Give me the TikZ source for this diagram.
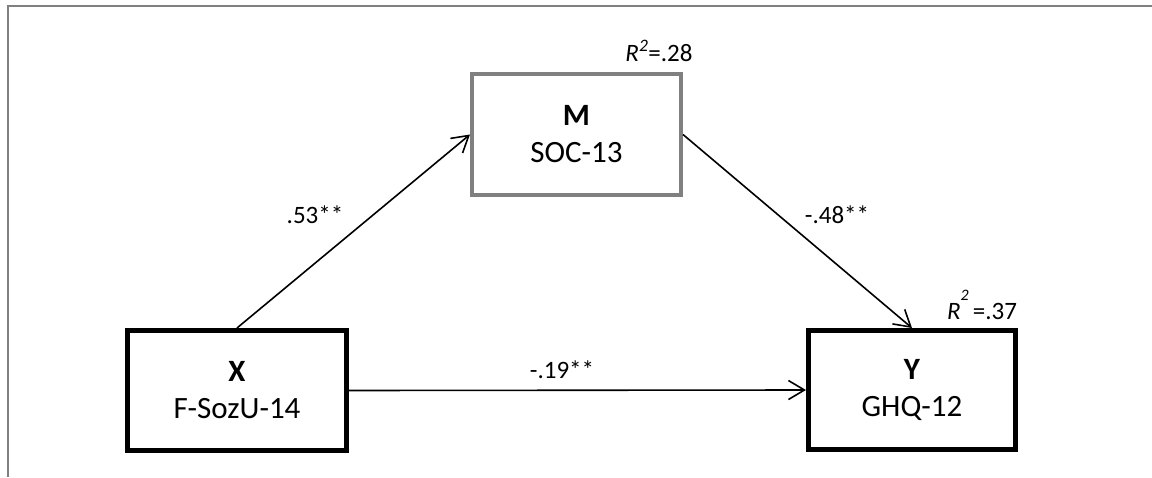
\documentclass[tikz,border=0pt]{standalone}
\usepackage{fontspec}
\setmainfont{Carlito}
\usetikzlibrary{arrows.meta}
\definecolor{framegray}{RGB}{128,128,128}
\begin{document}
\begin{tikzpicture}[x=1pt,y=-1pt,
  box/.style={draw,rectangle,inner sep=0pt,align=center,
    font=\fontsize{31}{37}\selectfont},
  lbl/.style={font=\fontsize{25}{28}\selectfont,inner sep=0pt},
  conn/.style={line width=1.6pt,
    -{Straight Barb[length=16pt,width=19pt,line width=1.6pt]}}]
\useasboundingbox (0,0) rectangle (1152,477);
\fill[white] (0,0) rectangle (1152,477);
% frame
\draw[framegray,line width=2pt] (8,477) -- (8,6) -- (1152,6);
% boxes
\node[box,draw=framegray,line width=4pt,minimum width=209pt,minimum height=121pt]
  (M) at (576.5,134.5) {\textbf{M}\\SOC-13};
\node[box,line width=5pt,minimum width=219pt,minimum height=120pt]
  (X) at (237,390.5) {\textbf{X}\\F-SozU-14};
\node[box,line width=5pt,minimum width=207pt,minimum height=119pt]
  (Y) at (912,390) {\textbf{Y}\\GHQ-12};
% connectors
\draw[conn] (X.north) -- (M.west);
\draw[conn] (M.east) -- (Y.north);
\draw[conn] (X.east) -- (Y.west);
% labels
\node[lbl] (a) at (315,215) {.53**};
\node[lbl] (b) at (837,215) {-.48**};
\node[lbl] (c) at (562,370) {-.19**};
\node[lbl,anchor=base] (r1) at (659,61) {\textit{R}\textsuperscript{\textit{2}}=.28};
\node[lbl,anchor=base] (r2) at (982,319) {\textit{R}\raisebox{19pt}{\fontsize{16}{16}\selectfont\textit{2}}\,=.37};
\end{tikzpicture}
\end{document}
